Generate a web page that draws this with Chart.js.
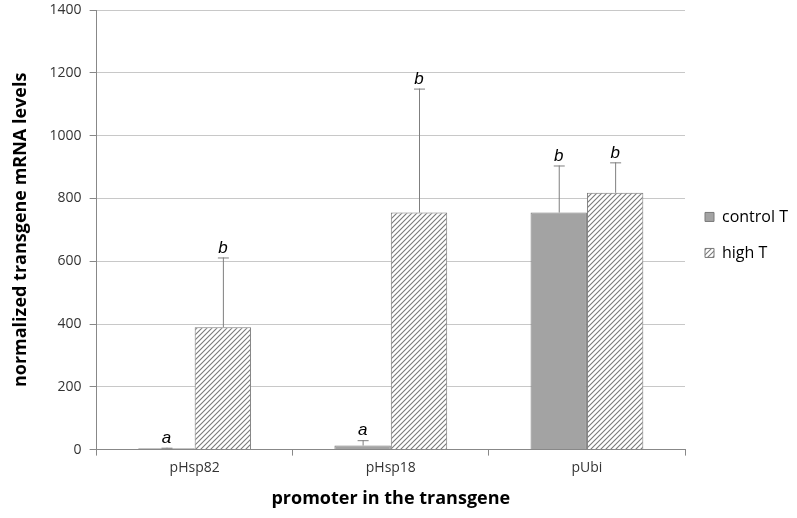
<!DOCTYPE html>
<html>
<head>
<meta charset="utf-8">
<script src="https://cdn.jsdelivr.net/npm/chart.js@4/dist/chart.umd.min.js"></script>
<style>
html,body{margin:0;padding:0;background:#fff;}
#wrap{width:797px;height:518px;position:relative;}
</style>
</head>
<body>
<div id="wrap"><canvas id="c" width="797" height="518"></canvas></div>
<script>
const categories = ["pHsp82", "pHsp18", "pUbi"];
const seriesNames = ["control T", "high T"];
const controlValues = [4, 13, 755];
const controlErrors = [2, 17, 150];
const highValues = [390, 755, 818];
const highErrors = [222, 395, 97];
const controlLetters = ["a", "a", "b"];
const highLetters = ["b", "b", "b"];
const yTicks = [0, 200, 400, 600, 800, 1000, 1200, 1400];

function hatch() {
  const s = 5;
  const c = document.createElement('canvas');
  c.width = s; c.height = s;
  const g = c.getContext('2d');
  g.fillStyle = '#ffffff';
  g.fillRect(0, 0, s, s);
  g.strokeStyle = '#7a7a7a';
  g.lineWidth = 1.1;
  g.beginPath();
  g.moveTo(-1, s + 1); g.lineTo(s + 1, -1);
  g.moveTo(-1, 1); g.lineTo(1, -1);
  g.moveTo(s - 1, s + 1); g.lineTo(s + 1, s - 1);
  g.stroke();
  return g.createPattern(c, 'repeat');
}
const hatchPattern = hatch();

const errorPlugin = {
  id: 'errs',
  afterDatasetsDraw(chart) {
    const ctx = chart.ctx;
    const y = chart.scales.y;
    chart.data.datasets.forEach((ds, di) => {
      const meta = chart.getDatasetMeta(di);
      meta.data.forEach((el, i) => {
        const top = y.getPixelForValue(ds.data[i] + ds.errors[i]);
        ctx.save();
        ctx.strokeStyle = '#7f7f7f';
        ctx.lineWidth = 1;
        ctx.beginPath();
        ctx.moveTo(el.x + 0.5, el.y);
        ctx.lineTo(el.x + 0.5, top);
        ctx.moveTo(el.x - 5, top + 0.5);
        ctx.lineTo(el.x + 6, top + 0.5);
        ctx.stroke();
        ctx.fillStyle = '#000';
        ctx.font = 'italic 17px "Liberation Sans", Arial, sans-serif';
        ctx.textAlign = 'center';
        ctx.textBaseline = 'bottom';
        ctx.fillText(ds.letters[i], el.x, top - 1);
        ctx.restore();
      });
    });
  }
};

new Chart(document.getElementById('c'), {
  type: 'bar',
  data: {
    labels: categories,
    datasets: [
      { label: seriesNames[0], data: controlValues, errors: controlErrors, letters: controlLetters,
        backgroundColor: '#a3a3a3', borderColor: '#7a7a7a', borderWidth: 1,
        barPercentage: 1.0, categoryPercentage: 0.575 },
      { label: seriesNames[1], data: highValues, errors: highErrors, letters: highLetters,
        backgroundColor: hatchPattern, borderColor: '#7a7a7a', borderWidth: 1,
        barPercentage: 1.0, categoryPercentage: 0.575 }
    ]
  },
  options: {
    responsive: false,
    animation: false,
    layout: { padding: { left: 6, top: 0, right: 0, bottom: 4 } },
    plugins: {
      tooltip: { enabled: false },
      legend: {
        position: 'right',
        align: 'center',
        fullSize: false,
        maxWidth: 112,
        title: { display: true, text: ' ', font: { size: 1 }, padding: { top: 9, bottom: 0 } },
        labels: {
          boxWidth: 9, boxHeight: 9, padding: 20,
          color: '#000',
          font: { family: '"Open Sans", sans-serif', size: 16 }
        }
      }
    },
    scales: {
      x: {
        grid: { display: true, drawOnChartArea: false, drawTicks: true, tickLength: 6, color: '#888' },
        border: { color: '#888' },
        ticks: { color: '#333', font: { family: '"Open Sans", sans-serif', size: 14 }, padding: 4 },
        title: { display: true, text: 'promoter in the transgene', color: '#000',
                 font: { family: '"Open Sans", sans-serif', size: 18, weight: 'bold' }, padding: { top: 8 } }
      },
      y: {
        min: 0, max: 1400,
        afterBuildTicks: (ax) => { ax.ticks = yTicks.map(v => ({ value: v })); },
        grid: { color: '#c8c8c8', tickLength: 7, tickColor: '#888' },
        border: { color: '#888' },
        ticks: { color: '#333', font: { family: '"Open Sans", sans-serif', size: 14, lineHeight: 0.3 }, padding: 8,
                 callback: (v) => String(v) },
        title: { display: true, text: 'normalized transgene mRNA levels', color: '#000',
                 font: { family: '"Open Sans", sans-serif', size: 18, weight: 'bold' }, padding: { bottom: 10 } }
      }
    }
  },
  plugins: [errorPlugin]
});
</script>
</body>
</html>
